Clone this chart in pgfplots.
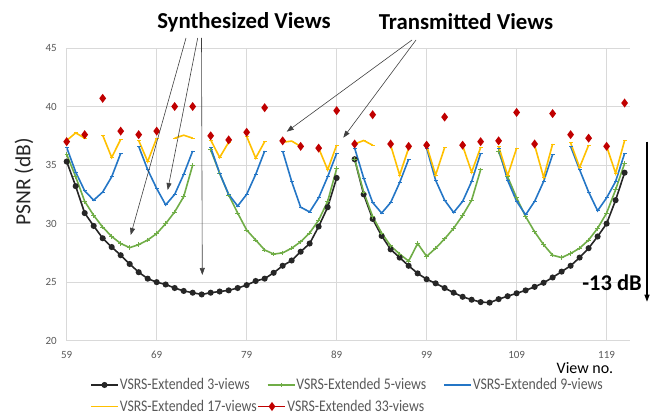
\documentclass[border=0pt]{standalone}
\usepackage{fontspec}
\setmainfont{Carlito}[FakeStretch=0.85]
\newfontfamily\plainfont{Carlito}
\usepackage{pgfplots}
\pgfplotsset{compat=1.18}
\usetikzlibrary{arrows.meta,calc}
\definecolor{cBlack}{HTML}{262626}
\definecolor{cGreen}{HTML}{70AD47}
\definecolor{cBlue}{HTML}{2476C6}
\definecolor{cYellow}{HTML}{FFC000}
\definecolor{cRed}{HTML}{C00000}
\definecolor{gridc}{HTML}{D9D9D9}
\definecolor{tickc}{HTML}{595959}
\definecolor{annc}{HTML}{404040}
\pgfplotsset{
  legline/.style={legend image code/.code={\draw[mark repeat=2,mark phase=2,##1] plot coordinates {(0pt,0pt) (13.5pt,0pt) (27pt,0pt)};}},
  sBlack/.style={color=cBlack, line width=1.6pt, mark=*, mark size=2.2pt, mark options={fill=cBlack, solid}},
  sGreen/.style={color=cGreen, line width=1.6pt, mark=+, mark size=2.2pt, mark options={line width=0.8pt}},
  sBlue/.style={color=cBlue, line width=1.6pt, mark=-, mark size=2pt, mark options={line width=0.8pt}},
  sYellow/.style={color=cYellow, line width=1.6pt, mark=-, mark size=2pt, mark options={line width=0.8pt}},
  sRed/.style={color=cRed, line width=1.6pt, mark=diamond*, mark size=3.2pt, mark options={fill=cRed, solid}},
  base/.style={
    scale only axis, width=563.3pt, height=292.7pt,
    xmin=59, xmax=121.6, ymin=20, ymax=45},
}
\begin{document}
\begin{tikzpicture}[x=1pt,y=1pt]
\begin{axis}[
  base,
  xtick={59,69,79,89,99,109,119}, ytick={20,25,30,35,40,45},
  grid=major, major grid style={draw=gridc, line width=0.8pt},
  axis line style={draw=none}, tick style={draw=none},
  /pgf/number format/assume math mode=true,
  ticklabel style={font=\plainfont\fontsize{11}{11}\selectfont, text=tickc},
  yticklabel style={inner sep=0pt, xshift=-9.7pt},
  xticklabel style={inner sep=0pt, yshift=-10.5pt},
  unbounded coords=jump,
  legline,
  legend columns=3,
  legend style={at={(0.0414,-0.1513)}, anchor=west, draw=none, fill=none, inner sep=0pt,
    font=\fontsize{16.2}{16.2}\selectfont, text=tickc,
    nodes={inner sep=1pt},
    /tikz/every even column/.append style={column sep=16pt}},
]
\addplot[sBlack] coordinates {
(59,35.3) (60,33.2) (61,30.9) (62,29.8) (63,28.75) (64,28.0) (65,27.3) (66,26.55) (67,25.85) (68,25.3)
(69,25.0) (70,24.8) (71,24.5) (72,24.25) (73,24.1) (74,23.95) (75,24.1) (76,24.2) (77,24.3) (78,24.5)
(79,24.75) (80,25.1) (81,25.3) (82,25.8) (83,26.4) (84,26.85) (85,27.6) (86,28.3) (87,29.75) (88,31.4)
(89,33.9) (90,nan)
(91,35.5) (92,32.5) (93,30.4) (94,28.95) (95,27.8) (96,27.1) (97,26.4) (98,25.75) (99,25.25) (100,24.9)
(101,24.5) (102,24.1) (103,23.75) (104,23.5) (105,23.3) (106,23.25) (107,23.55) (108,23.8) (109,24.05) (110,24.3)
(111,24.6) (112,24.95) (113,25.4) (114,25.9) (115,26.4) (116,27.1) (117,27.9) (118,28.9) (119,30.0) (120,32.0)
(121,34.35)
};
\addlegendentry{VSRS-Extended 3-views}
\addplot[sGreen] coordinates {
(59,35.9) (60,34.0) (61,31.9) (62,30.7) (63,29.7) (64,28.9) (65,28.3) (66,27.95) (67,28.2) (68,28.6)
(69,29.15) (70,30.0) (71,31.0) (72,32.3) (73,35.0) (74,nan)
(75,36.3) (76,34.3) (77,32.45) (78,30.9) (79,29.45) (80,28.6) (81,27.75) (82,27.4) (83,27.5) (84,27.9)
(85,28.45) (86,29.2) (87,30.3) (88,31.9) (89,34.7) (90,nan)
(91,35.5) (92,32.7) (93,30.6) (94,29.2) (95,28.1) (96,27.4) (97,26.8) (98,28.3) (99,27.2) (100,27.9)
(101,28.7) (102,29.6) (103,30.7) (104,32.0) (105,34.6) (106,nan)
(107,36.15) (108,34.0) (109,32.2) (110,30.6) (111,29.3) (112,28.2) (113,27.3) (114,27.1) (115,27.45) (116,27.9)
(117,28.6) (118,29.6) (119,30.9) (120,32.9) (121,35.15)
};
\addlegendentry{VSRS-Extended 5-views}
\addplot[sBlue] coordinates {
(59,36.5) (60,34.4) (61,32.8) (62,32.0) (63,32.7) (64,34.0) (65,36.0) (66,nan)
(67,36.6) (68,34.6) (69,33.0) (70,31.6) (71,32.5) (72,34.2) (73,36.2) (74,nan)
(75,36.5) (76,34.3) (77,32.5) (78,31.5) (79,32.5) (80,34.2) (81,36.2) (82,nan)
(83,36.2) (84,33.6) (85,31.4) (86,31.0) (87,32.2) (88,34.0) (89,36.0) (90,nan)
(91,36.45) (92,33.9) (93,31.8) (94,30.9) (95,31.8) (96,33.5) (97,35.5) (98,nan)
(99,36.45) (100,33.7) (101,32.0) (102,30.95) (103,31.9) (104,33.6) (105,36.0) (106,nan)
(107,36.45) (108,33.7) (109,31.9) (110,30.75) (111,31.9) (112,33.6) (113,35.9) (114,nan)
(115,36.6) (116,34.6) (117,32.7) (118,31.1) (119,32.2) (120,33.6) (121,36.0)
};
\addlegendentry{VSRS-Extended 9-views}
\addplot[sYellow, forget plot] coordinates {
(59,37.1) (60,37.75) (61,37.3) (62,nan)
(63,37.55) (64,35.65) (65,37.2) (66,nan)
(67,37.1) (68,35.3) (69,37.3) (70,nan)
(71,37.3) (72,37.55) (73,37.3) (74,nan)
(75,37.15) (76,35.65) (77,36.95) (78,nan)
(79,37.45) (80,35.6) (81,37.0) (82,nan)
(83,36.95) (84,37.05) (85,36.6) (86,nan)
(87,36.45) (88,34.6) (89,36.7) (90,nan)
(91,36.8) (92,37.1) (93,36.7) (94,nan)
(95,36.7) (96,34.15) (97,36.45) (98,nan)
(99,36.65) (100,34.15) (101,36.5) (102,nan)
(103,36.65) (104,34.4) (105,36.5) (106,nan)
(107,36.6) (108,34.1) (109,36.45) (110,nan)
(111,36.7) (112,33.95) (113,36.8) (114,nan)
(115,36.9) (116,34.8) (117,36.7) (118,nan)
(119,36.6) (120,34.3) (121,37.1)
};
\addplot[sRed, only marks, forget plot] coordinates {
(59,37.0) (61,37.6) (63,40.7) (65,37.9) (67,37.6) (69,37.9) (71,40.0) (73,40.0)
(75,37.5) (77,37.15) (79,37.8) (81,39.9) (83,37.07) (85,36.6) (87,36.45) (89,39.65)
(91,36.8) (93,39.3) (95,36.8) (97,36.6) (99,36.7) (101,39.1) (103,36.7) (105,37.0)
(107,37.07) (109,39.5) (111,36.8) (113,39.4) (115,37.6) (117,37.3) (119,36.6) (121,40.3)
};
\coordinate (AX) at (rel axis cs:0,0);
\end{axis}
\begin{axis}[
  base, at={(AX)}, anchor=south west,
  hide axis, legline,
  legend columns=2,
  legend style={at={(0.0414,-0.2248)}, anchor=west, draw=none, fill=none, inner sep=0pt,
    font=\fontsize{16.2}{16.2}\selectfont, text=tickc,
    nodes={inner sep=1pt},
    /tikz/every even column/.append style={column sep=0pt}},
]
\addlegendimage{sYellow}
\addlegendentry{VSRS-Extended 17-views}
\addlegendimage{sRed}
\addlegendentry{VSRS-Extended 33-views}
\end{axis}
\coordinate (O) at ($(AX)+(-66.7,-73.3)$);
\begin{scope}[shift={(O)}]
\node[font=\plainfont\bfseries\fontsize{22.8}{22.8}\selectfont, text=black] at (244,392) {Synthesized Views};
\node[font=\plainfont\bfseries\fontsize{22.8}{22.8}\selectfont, text=black] at (466,392) {Transmitted Views};
\begin{scope}[draw=annc, line width=0.6pt, -{Triangle[length=7pt,width=5pt]}]
\draw (186,376) -- (130.7,179);
\draw (197.7,376) -- (167.7,224);
\draw (201.5,376) -- (202.3,139);
\draw (412,374) -- (286.7,282.3);
\draw (416,374) -- (343.3,276.3);
\end{scope}
\node[rotate=90, font=\plainfont\fontsize{21.5}{21.5}\selectfont, text=cBlack] at (24,232) {PSNR (dB)};
\node[inner sep=0pt, font=\plainfont\fontsize{16}{16}\selectfont, text=black] at (585,45.5) {View no.};
\node[font=\plainfont\bfseries\fontsize{22.5}{22.5}\selectfont, text=black] at (612,131) {-13 dB};
\draw[line width=1.2pt, -{Triangle[length=7pt,width=5pt]}] (647,272.3) -- (647,112.3);
\end{scope}
\pgfresetboundingbox
\path[use as bounding box] (O) rectangle ($(O)+(653,414)$);
\end{tikzpicture}
\end{document}
